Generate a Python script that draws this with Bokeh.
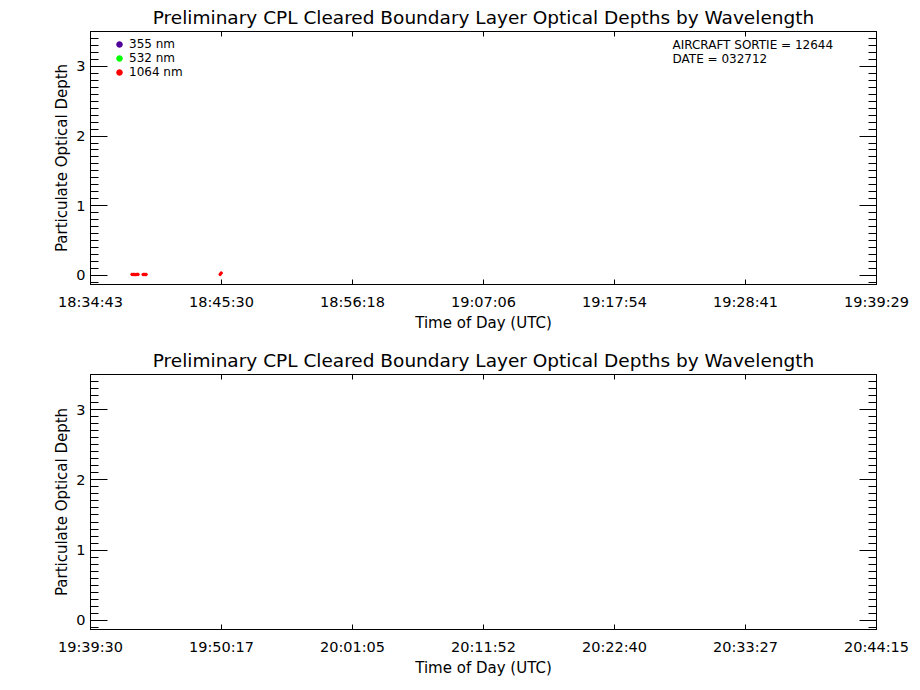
import numpy as np
from bokeh.plotting import figure
from bokeh.models import (Range1d, LinearAxis, FixedTicker, CustomJSTickFormatter,
                          Label, Legend, LegendItem, ColumnDataSource)
from bokeh.layouts import column
from bokeh.embed import file_html
from bokeh.resources import INLINE

# ---------------- data ----------------
TITLE = "Preliminary CPL Cleared Boundary Layer Optical Depths by Wavelength"
X_LABEL = "Time of Day (UTC)"
Y_LABEL = "Particulate Optical Depth"

top_tick_labels = ["18:34:43", "18:45:30", "18:56:18", "19:07:06",
                   "19:17:54", "19:28:41", "19:39:29"]
bottom_tick_labels = ["19:39:30", "19:50:17", "20:01:05", "20:11:52",
                      "20:22:40", "20:33:27", "20:44:15"]
y_major_ticks = [0, 1, 2, 3]

wl_labels = ["355 nm", "532 nm", "1064 nm"]
wl_colors = ["#50009a", "#00ff00", "#ff0000"]

# 355 / 532 nm: no valid retrievals in this window (missing samples)
od355_time = ["18:38:08", "18:39:03", "18:45:24"]
od355_value = [np.nan, np.nan, np.nan]
od532_time = ["18:38:08", "18:39:03", "18:45:24"]
od532_value = [np.nan, np.nan, np.nan]
od1064_time = ["18:38:08", "18:38:13", "18:38:18", "18:38:23", "18:38:28",
               "18:38:33", "18:38:38", "18:39:03", "18:39:08", "18:39:13",
               "18:39:18", "18:45:24", "18:45:29"]
od1064_value = [0.015, 0.012, 0.015, 0.013, 0.012, 0.015, 0.014,
                0.013, 0.015, 0.012, 0.014, 0.014, 0.035]

sortie_text = "AIRCRAFT SORTIE = 12644"
date_text = "DATE = 032712"

FONT = "DejaVu Sans"
FRAME_H = 255


def to_sec(s):
    h, m, sec = (int(v) for v in s.split(":"))
    return h * 3600 + m * 60 + sec


def make_panel(tick_labels, border_top, border_bottom):
    x0 = to_sec(tick_labels[0])
    x1 = to_sec(tick_labels[-1])
    p = figure(width=910, height=border_top + FRAME_H + border_bottom,
               output_backend="svg", toolbar_location=None,
               x_range=Range1d(x0, x1), y_range=Range1d(-0.13, 3.5),
               min_border_left=90, min_border_right=34,
               min_border_top=border_top, min_border_bottom=border_bottom,
               title=TITLE)
    p.title.text_font = FONT
    p.title.text_font_size = "18.5px"
    p.title.text_font_style = "normal"
    p.title.text_color = "black"
    p.title.align = "center"
    p.title.standoff = 8
    p.grid.visible = False
    p.outline_line_color = "black"
    p.background_fill_color = "white"
    p.border_fill_color = "white"

    xt = FixedTicker(ticks=list(np.linspace(x0, x1, len(tick_labels))), minor_ticks=[])
    yt = FixedTicker(ticks=y_major_ticks,
                     minor_ticks=list(np.round(np.arange(-0.1, 3.51, 0.1), 2)))
    xfmt = CustomJSTickFormatter(args=dict(labels=tick_labels),
                                 code="return labels[index];")
    empty = CustomJSTickFormatter(code="return '';")

    xa = p.xaxis[0]
    xa.ticker = xt
    xa.formatter = xfmt
    xa.axis_label = X_LABEL

    ya = p.yaxis[0]
    ya.ticker = yt
    ya.axis_label = Y_LABEL

    top = LinearAxis(ticker=xt, formatter=empty)
    right = LinearAxis(ticker=yt, formatter=empty)
    p.add_layout(top, "above")
    p.add_layout(right, "right")

    for ax in (xa, top):
        ax.major_tick_in = 5
        ax.major_tick_out = 0
        ax.minor_tick_in = 0
        ax.minor_tick_out = 0
    for ax in (ya, right):
        ax.major_tick_in = 17
        ax.major_tick_out = 0
        ax.minor_tick_in = 8
        ax.minor_tick_out = 0
    for ax in (xa, ya, top, right):
        ax.axis_line_color = "black"
        ax.major_tick_line_color = "black"
        ax.minor_tick_line_color = "black"
        ax.major_label_text_font = FONT
        ax.major_label_text_font_size = "14.5px"
        ax.major_label_text_color = "black"
        ax.axis_label_text_font = FONT
        ax.axis_label_text_font_size = "15px"
        ax.axis_label_text_font_style = "normal"
        ax.axis_label_text_color = "black"
    for ax in (top, right):
        ax.major_label_text_font_size = "1px"
        ax.major_label_standoff = 0
    xa.major_label_standoff = 9
    xa.axis_label_standoff = 1
    ya.major_label_standoff = 5
    ya.axis_label_standoff = 2
    return p


p1 = make_panel(top_tick_labels, 29, 56)
p2 = make_panel(bottom_tick_labels, 34, 56)

series = [(od355_time, od355_value), (od532_time, od532_value),
          (od1064_time, od1064_value)]
items = []
for (t, v), lbl, col in zip(series, wl_labels, wl_colors):
    src = ColumnDataSource(dict(x=[to_sec(s) for s in t], y=v))
    r = p1.scatter("x", "y", source=src, marker="circle", size=2.5,
                   fill_color=col, line_color=col, line_width=1)
    items.append(LegendItem(label=lbl, renderers=[r]))

legend = Legend(items=items, location=(22, FRAME_H - 50),
                glyph_width=14, glyph_height=14, label_height=14,
                spacing=0, padding=0, margin=0, label_standoff=3,
                label_text_font=FONT, label_text_font_size="12px",
                label_text_color="black",
                border_line_color=None, background_fill_alpha=0)
p1.add_layout(legend)

for i, txt in enumerate([sortie_text, date_text]):
    p1.add_layout(Label(x=582, y=FRAME_H - 15 - 14 * i, x_units="screen", y_units="screen",
                        text=txt, text_font=FONT, text_font_size="12px",
                        text_baseline="middle", text_color="black"))

layout = column(p1, p2, spacing=0)
open("out.html", "w").write(file_html(layout, INLINE))
